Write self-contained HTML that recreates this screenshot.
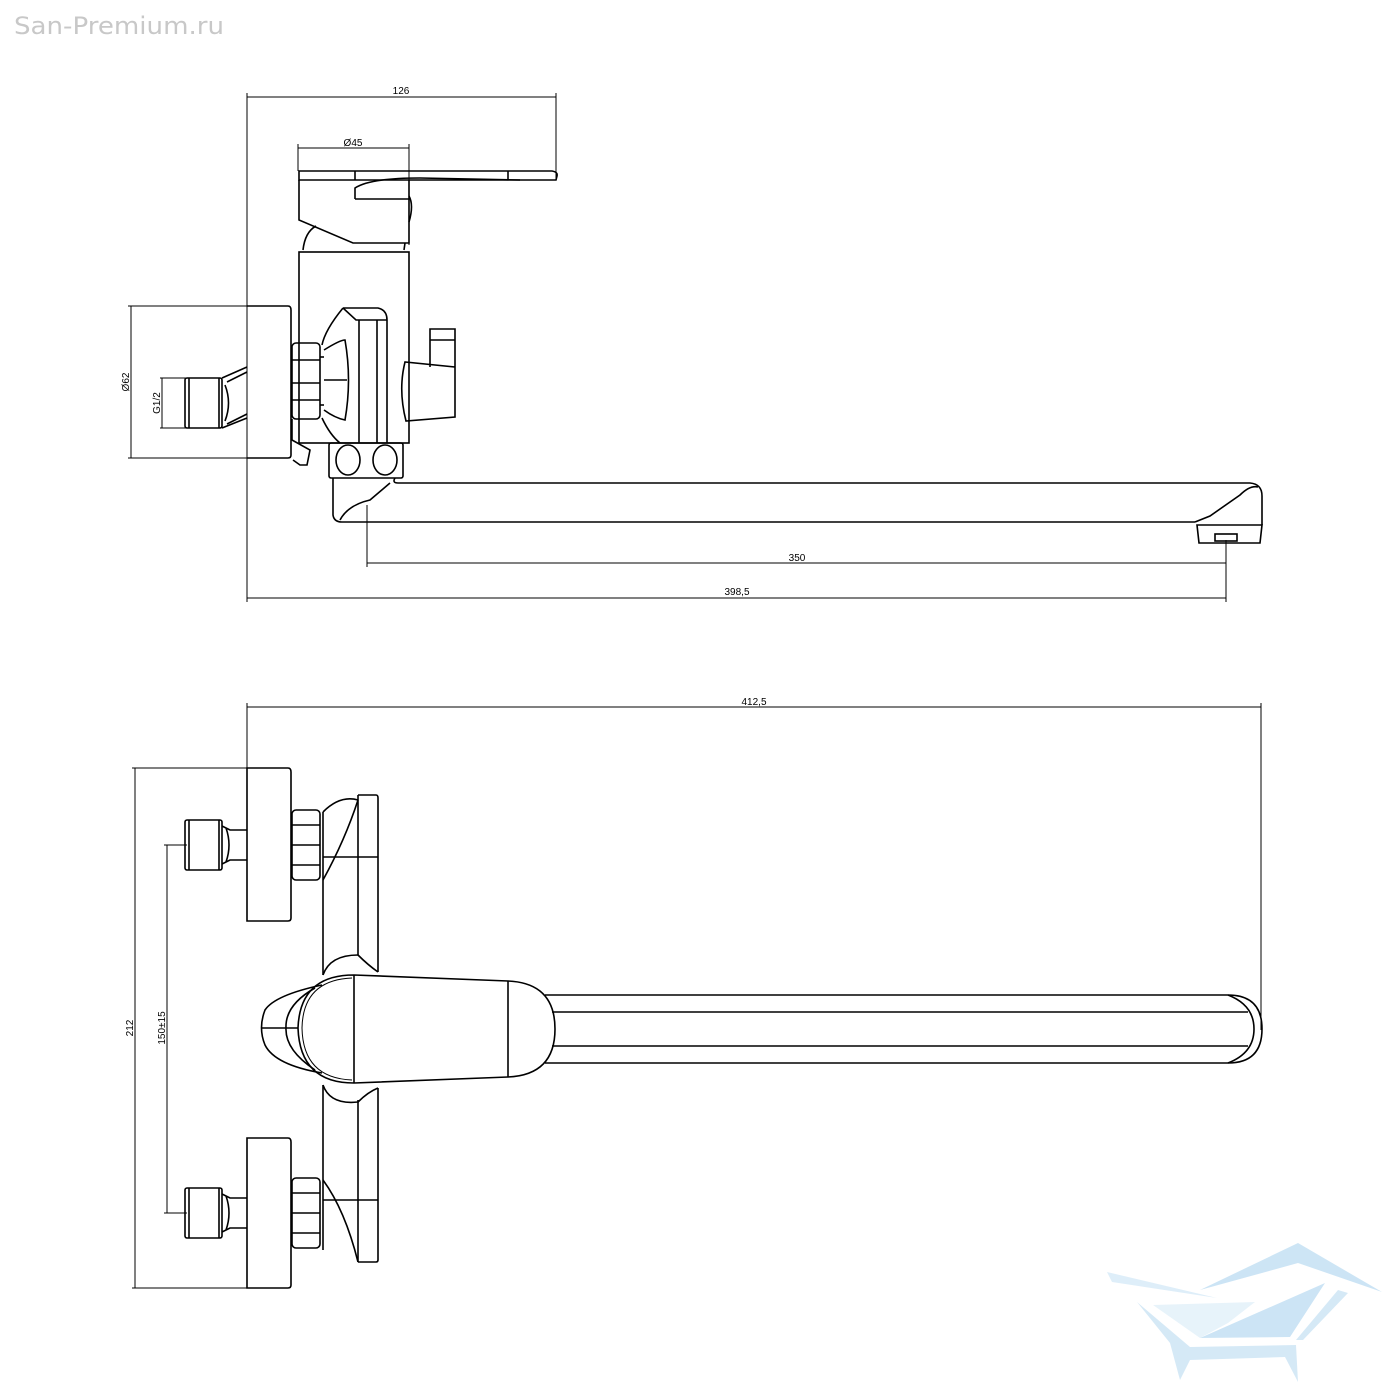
<!DOCTYPE html>
<html><head><meta charset="utf-8"><style>
html,body{margin:0;padding:0;background:#fff;}
svg{display:block}
text{font-family:"Liberation Sans",sans-serif;}
</style></head><body>
<svg width="1400" height="1400" viewBox="0 0 1400 1400" xmlns="http://www.w3.org/2000/svg">
<rect width="1400" height="1400" fill="#fff"/>
<text x="14" y="34" font-size="24" fill="#c8c8c8" style="font-family:'DejaVu Sans',sans-serif" textLength="210" lengthAdjust="spacingAndGlyphs">San-Premium.ru</text>

<!-- logo -->
<g opacity="0.75">
<polygon points="1200,1290 1298,1243 1382,1292 1298,1263" fill="#bcdcf2"/>
<polygon points="1107,1272 1217,1298 1112,1282" fill="#d4e9f7"/>
<polygon points="1200,1338 1325,1283 1290,1337" fill="#bcdcf2"/>
<polygon points="1153,1305 1255,1302 1228,1323 1200,1338" fill="#e0eff9"/>
<polygon points="1190,1347 1296,1345 1298,1382 1285,1357 1190,1360 1180,1380 1170,1343 1137,1302" fill="#c8e2f4"/>
<polygon points="1338,1290 1348,1293 1303,1340 1296,1340" fill="#c8e2f4"/>
</g>

<g fill="none" stroke="#000" stroke-width="1">
<line x1="247" y1="93" x2="247" y2="602"/>
<line x1="556" y1="93" x2="556" y2="180"/>
<line x1="247" y1="97" x2="556" y2="97"/>
<line x1="298" y1="144" x2="298" y2="171"/>
<line x1="409" y1="144" x2="409" y2="245"/>
<line x1="298" y1="148" x2="409" y2="148"/>
<line x1="128" y1="306" x2="247" y2="306"/>
<line x1="128" y1="458" x2="247" y2="458"/>
<line x1="131" y1="306" x2="131" y2="458"/>
<line x1="160" y1="378" x2="186" y2="378"/>
<line x1="160" y1="428" x2="186" y2="428"/>
<line x1="162" y1="378" x2="162" y2="428"/>
<line x1="367" y1="505" x2="367" y2="567"/>
<line x1="1226" y1="540" x2="1226" y2="602"/>
<line x1="367" y1="563" x2="1226" y2="563"/>
<line x1="247" y1="598" x2="1226" y2="598"/>
</g>
<g font-size="10" fill="#000" text-anchor="middle">
<text x="401" y="94">126</text>
<text x="353" y="146">Ø45</text>
<text x="797" y="561">350</text>
<text x="737" y="595">398,5</text>
<text transform="translate(129,382) rotate(-90)">Ø62</text>
<text transform="translate(160,403) rotate(-90)">G1/2</text>
<text x="754" y="705">412,5</text>
<text transform="translate(133,1028) rotate(-90)">212</text>
<text transform="translate(165,1028) rotate(-90)">150±15</text>
</g>

<g fill="none" stroke="#000" stroke-width="1.6">
<path d="M299,171 L552,171 Q558,172 557,176 L556,180 L299,180 Z"/>
<line x1="355" y1="171" x2="355" y2="180"/>
<line x1="508" y1="171" x2="508" y2="180"/>
<path d="M299,180 L299,220 L353,243 L409,243 L409,180"/>
<path d="M355,199 L355,188 Q370,178 420,178 L520,180"/>
<path d="M355,199 L409,199"/>
<path d="M409,196 Q414,205 409,222"/>
<path d="M303,250 Q305,232 316,226"/>
<path d="M404,250 L405,243"/>
<rect x="299" y="252" width="110" height="191"/>
<path d="M247,306 L288,306 Q291,306 291,310 L291,455 Q291,458 288,458 L247,458"/>
<rect x="185" y="378" width="37" height="50" rx="2"/>
<line x1="189" y1="378" x2="189" y2="428"/>
<line x1="219" y1="378" x2="219" y2="428"/>
<path d="M222,378 L247,367 M222,428 L247,418 M227,382 L247,372 M227,424 L247,414"/>
<path d="M225,385 Q232,403 225,421"/>
<rect x="292" y="343" width="28" height="76" rx="4"/>
<line x1="292" y1="360" x2="320" y2="360"/>
<line x1="292" y1="400" x2="320" y2="400"/>
<line x1="292" y1="383" x2="320" y2="383"/>
<line x1="320" y1="357" x2="324" y2="357"/>
<line x1="320" y1="405" x2="324" y2="405"/>
<path d="M343,308 L378,308 Q387,310 387,320 L387,443"/>
<path d="M343,308 Q325,330 322,345 M322,418 Q330,435 340,443"/>
<line x1="359" y1="320" x2="359" y2="443"/>
<line x1="377" y1="320" x2="377" y2="443"/>
<path d="M343,308 L356,320 L387,320"/>
<path d="M324,350 Q340,340 345,340 Q352,380 345,420 Q335,418 324,410"/>
<line x1="324" y1="380" x2="347" y2="380"/>
<path d="M292,419 L292,440 L310,450 L307,465 L300,465 L293,460"/>
<path d="M430,367 L430,329 L455,329 L455,367 L405,362 Q398,390 406,421 L455,417 L455,367"/>
<line x1="430" y1="340" x2="455" y2="340"/>
<rect x="329" y="443" width="74" height="35" rx="2"/>
<ellipse cx="348" cy="460" rx="12" ry="15"/>
<ellipse cx="385" cy="460" rx="12" ry="15"/>
<path d="M333,478 L333,515 Q334,522 342,522 L1195,522"/>
<path d="M395,478 Q392,483 398,483 L1250,483 Q1262,484 1262,496 L1262,525"/>
<path d="M1195,522 Q1200,520 1210,516 L1240,495 Q1250,485 1258,487"/>
<path d="M340,520 Q348,505 370,500 L390,483"/>
<path d="M1197,525 L1262,525 L1260,543 L1199,543 Z"/>
<rect x="1215" y="534" width="22" height="7"/>
</g>
<g fill="none" stroke="#000" stroke-width="1">
<line x1="247" y1="703" x2="247" y2="768"/>
<line x1="1261" y1="703" x2="1261" y2="1030"/>
<line x1="247" y1="707" x2="1261" y2="707"/>
<line x1="132" y1="768" x2="247" y2="768"/>
<line x1="132" y1="1288" x2="247" y2="1288"/>
<line x1="135" y1="768" x2="135" y2="1288"/>
<line x1="164" y1="845" x2="187" y2="845"/>
<line x1="164" y1="1213" x2="187" y2="1213"/>
<line x1="167" y1="845" x2="167" y2="1213"/>
</g>
<g fill="none" stroke="#000" stroke-width="1.6">
<path d="M247,768 L288,768 Q291,768 291,772 L291,918 Q291,921 288,921 L247,921 Z"/>
<path d="M247,1138 L288,1138 Q291,1138 291,1142 L291,1285 Q291,1288 288,1288 L247,1288 Z"/>
<rect x="185" y="820" width="37" height="50" rx="2"/>
<line x1="189" y1="820" x2="189" y2="870"/>
<line x1="219" y1="820" x2="219" y2="870"/>
<path d="M222,826 L230,830 L247,830 M222,864 L230,860 L247,860 M226,828 Q232,845 226,862"/>
<rect x="185" y="1188" width="37" height="50" rx="2"/>
<line x1="189" y1="1188" x2="189" y2="1238"/>
<line x1="219" y1="1188" x2="219" y2="1238"/>
<path d="M222,1194 L230,1198 L247,1198 M222,1232 L230,1228 L247,1228 M226,1196 Q232,1213 226,1230"/>
<rect x="292" y="810" width="28" height="70" rx="4"/>
<line x1="292" y1="825" x2="320" y2="825"/>
<line x1="292" y1="845" x2="320" y2="845"/>
<line x1="292" y1="865" x2="320" y2="865"/>
<rect x="292" y="1178" width="28" height="70" rx="4"/>
<line x1="292" y1="1193" x2="320" y2="1193"/>
<line x1="292" y1="1213" x2="320" y2="1213"/>
<line x1="292" y1="1233" x2="320" y2="1233"/>
<path d="M358,795 L376,795 Q378,795 378,798 L378,972"/>
<path d="M378,1088 L378,1260 Q378,1262 376,1262 L358,1262"/>
<line x1="358" y1="795" x2="358" y2="955"/>
<line x1="358" y1="1100" x2="358" y2="1262"/>
<line x1="323" y1="812" x2="323" y2="975"/>
<line x1="323" y1="1085" x2="323" y2="1250"/>
<path d="M323,812 Q340,795 358,800 M323,880 Q345,840 358,800"/>
<line x1="323" y1="857" x2="378" y2="857"/>
<line x1="323" y1="1200" x2="378" y2="1200"/>
<path d="M323,1180 Q345,1210 358,1262"/>
<path d="M323,975 Q330,955 358,955 M323,1085 Q330,1105 358,1102"/>
<path d="M358,955 Q368,965 378,972 M358,1102 Q368,1092 378,1088"/>
<path d="M322,985 Q275,995 265,1010 Q258,1028 265,1045 Q275,1065 322,1073"/>
<path d="M315,988 Q285,1005 286,1028 Q285,1050 315,1070"/>
<line x1="262" y1="1028" x2="298" y2="1028"/>
<path d="M354,975 L508,981 Q555,983 555,1029 Q555,1075 508,1077 L354,1083 Q300,1083 298,1028 Q300,975 354,975 Z"/>
<path d="M352,978 Q303,980 302,1028 Q303,1078 352,1080" stroke-width="1"/>
<line x1="354" y1="975" x2="354" y2="1083"/>
<line x1="508" y1="981" x2="508" y2="1077"/>
<path d="M545,995 L1228,995 Q1262,995 1262,1029 Q1262,1063 1228,1063 L545,1063"/>
<line x1="552" y1="1012" x2="1248" y2="1012"/>
<line x1="552" y1="1046" x2="1248" y2="1046"/>
<path d="M1228,995 Q1254,1005 1254,1029 Q1254,1053 1228,1063"/>
</g>
</svg>
</body></html>
